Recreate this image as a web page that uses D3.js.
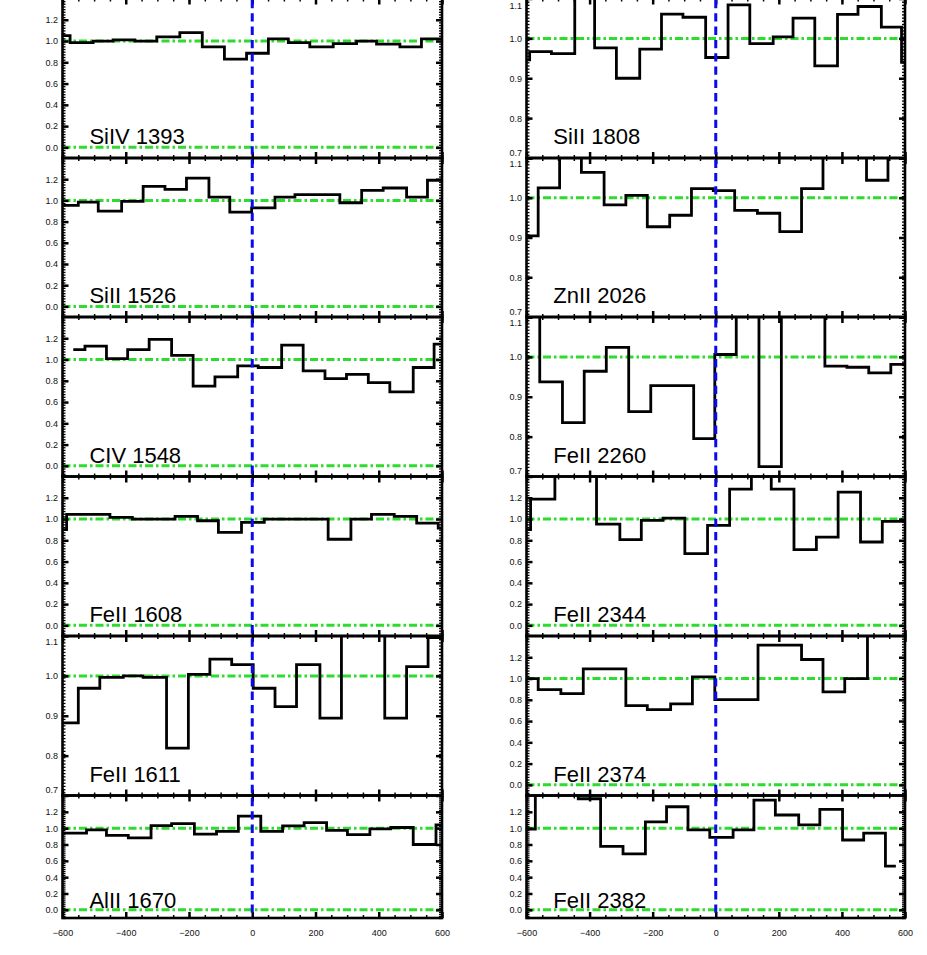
<!DOCTYPE html>
<html><head><meta charset="utf-8">
<script src="https://cdn.jsdelivr.net/npm/d3@7"></script>
<style>body{margin:0;background:#fff} svg{display:block}</style>
</head><body>
<svg id="chart" width="927" height="955"></svg>
<script>
// ---------------- data (velocity bin edges in km/s, normalized flux per bin) ----------------
const siiv1393Edges = [-620,-576,-503,-440,-371,-302,-229,-158,-88,-18,51,114,182,256,330,393,467,535,620];
const siiv1393Flux  = [1.05,0.985,1.0,1.01,1.0,1.04,1.08,0.945,0.83,0.885,1.02,0.985,0.945,0.975,1.0,0.97,0.945,1.02];

const sii1526Edges = [-620,-550,-487,-413,-345,-276,-208,-137,-71,-2,72,135,209,277,346,414,488,554,620];
const sii1526Flux  = [0.953,0.984,0.899,0.99,1.132,1.104,1.211,1.03,0.89,0.93,1.03,1.054,1.054,0.978,1.095,1.117,1.03,1.19];

const civ1548Edges = [-566,-529,-461,-394,-326,-255,-187,-118,-46,19,93,161,230,298,367,435,509,575,620];
const civ1548Flux  = [1.094,1.126,1.009,1.094,1.19,1.04,0.75,0.836,0.94,0.925,1.135,0.893,0.82,0.86,0.783,0.695,0.925,1.145];

const feii1608Edges = [-620,-587,-519,-450,-379,-308,-244,-173,-107,-34,38,103,172,240,312,377,449,520,588,620];
const feii1608Flux  = [0.9,1.044,1.044,1.016,1.0,1.0,1.025,0.984,0.875,0.969,1.0,1.0,1.0,0.81,1.0,1.044,1.025,0.962,0.915];

const feii1611Edges = [-620,-550,-482,-408,-345,-271,-202,-134,-65,3,72,140,214,282,351,419,488,556,620];
const feii1611Flux  = [0.882,0.969,0.996,1.0,0.996,0.819,1.004,1.042,1.028,0.969,0.923,1.028,0.894,1.2,1.15,0.894,1.023,1.096];

const alii1670Edges = [-620,-524,-461,-392,-320,-255,-183,-113,-44,27,96,164,235,301,372,438,509,581,620];
const alii1670Flux  = [0.94,0.98,0.912,0.88,1.032,1.056,0.928,0.96,1.148,0.96,1.028,1.068,0.972,0.92,0.992,1.008,0.8,1.04];

const sii1808Edges = [-620,-590,-521,-447,-384,-315,-241,-172,-104,-32,39,108,182,245,314,386,451,525,589,620];
const sii1808Flux  = [0.946,0.967,0.962,1.15,0.976,0.9,0.973,1.061,1.053,0.952,1.084,0.987,1.004,1.051,0.931,1.06,1.08,1.028,0.94];

const znii2026Edges = [-620,-563,-495,-426,-354,-285,-217,-146,-77,-8,60,132,203,272,340,409,478,546,620];
const znii2026Flux  = [0.904,1.025,1.15,1.064,0.982,1.006,0.927,0.956,1.023,1.018,0.968,0.961,0.915,1.023,1.15,1.15,1.044,1.15];

const feii2260Edges = [-620,-558,-486,-417,-347,-276,-206,-137,-70,-3,65,137,208,277,346,416,485,555,620];
const feii2260Flux  = [1.15,0.9375,0.835,0.964,1.024,0.8625,0.928,0.928,0.795,1.006,1.15,0.725,1.15,1.15,0.977,0.974,0.96,0.981];

const feii2344Edges = [-620,-587,-510,-444,-378,-304,-236,-167,-98,-26,44,113,176,248,319,388,459,528,620];
const feii2344Flux  = [0.9,1.188,1.5,1.5,0.953,0.806,0.987,1.009,0.674,0.94,1.282,1.5,1.282,0.712,0.83,1.254,0.784,0.978];

const feii2374Edges = [-620,-563,-491,-420,-352,-285,-217,-143,-74,-3,65,134,203,272,340,409,481,552,620];
const feii2374Flux  = [1.0,0.896,0.858,1.091,1.091,0.745,0.708,0.761,1.016,0.802,0.802,1.314,1.314,1.179,0.874,1.0,1.5,1.5];

const feii2382Edges = [-620,-572,-504,-436,-365,-294,-223,-156,-88,-19,55,121,189,263,330,402,469,538,571];
const feii2382Flux  = [0.988,1.5,1.5,1.36,0.778,0.685,1.077,1.262,0.98,0.887,0.98,1.343,1.161,1.04,1.23,0.855,0.94,0.536];

const panelLabels = ["SiIV 1393","SiII 1526","CIV 1548","FeII 1608","FeII 1611","AlII 1670",
                     "SiII 1808","ZnII 2026","FeII 2260","FeII 2344","FeII 2374","FeII 2382"];
const panelViews  = ["full","full","full","full","zoom","full",
                     "zoom","zoom","zoom","full","full","full"];

const xTickValues   = [-600,-400,-200,0,200,400,600];
const fullTickValues = [0.0,0.2,0.4,0.6,0.8,1.0,1.2];
const zoomTickValues = [0.7,0.8,0.9,1.0,1.1];
const fullDomain = [-0.1,1.4];
const zoomDomain = [0.7,1.1];
const velocityDomain = [-600,600];

// ---------------- layout ----------------
const colX = [[62.5,442],[526.5,905]];
const rowY = [[-1.5,158],[158,317],[317,476.5],[476.5,636],[636,795.5],[795.5,918]];
const GREEN = "#2ddc2d", BLUE = "#0a0aee";

const seriesEdges = [siiv1393Edges,sii1526Edges,civ1548Edges,feii1608Edges,feii1611Edges,alii1670Edges,
                     sii1808Edges,znii2026Edges,feii2260Edges,feii2344Edges,feii2374Edges,feii2382Edges];
const seriesFlux  = [siiv1393Flux,sii1526Flux,civ1548Flux,feii1608Flux,feii1611Flux,alii1670Flux,
                     sii1808Flux,znii2026Flux,feii2260Flux,feii2344Flux,feii2374Flux,feii2382Flux];

const panels = panelLabels.map((label,i)=>({
  label, view: panelViews[i], edges: seriesEdges[i], flux: seriesFlux[i],
  col: i < 6 ? 0 : 1, row: i % 6
}));

const svg = d3.select("#chart");
svg.append("rect").attr("width",927).attr("height",955).attr("fill","#fff");
const defs = svg.append("defs");

function styleAxis(g, w){
  g.select(".domain").remove();
  g.selectAll(".tick line").attr("stroke","#000").attr("stroke-width",w);
  g.selectAll(".tick text").remove();
}

panels.forEach((p,i)=>{
  const [x0,x1] = colX[p.col];
  const [top,bottom] = rowY[p.row];
  const x = d3.scaleLinear().domain(velocityDomain).range([x0,x1]);
  const full = p.view === "full";
  const dom = full ? fullDomain : zoomDomain;
  const y = d3.scaleLinear().domain(dom).range([bottom, top]);
  const g = svg.append("g");

  const cid = "clip"+i;
  defs.append("clipPath").attr("id",cid).append("rect")
    .attr("x",x0).attr("y",top).attr("width",x1-x0).attr("height",bottom-top);

  // reference lines
  const refs = full ? [1.0, 0.0] : [1.0];
  g.selectAll("line.ref").data(refs).join("line")
    .attr("x1",x0).attr("x2",x1).attr("y1",d=>y(d)).attr("y2",d=>y(d))
    .attr("stroke",GREEN).attr("stroke-width",3).attr("stroke-dasharray","8,3,2.5,3");

  // histogram step line
  const pts = p.edges.map((e,k)=>[e, p.flux[Math.min(k, p.flux.length-1)]]);
  const line = d3.line().x(d=>x(d[0])).y(d=>y(d[1])).curve(d3.curveStepAfter);
  g.append("path").attr("d",line(pts)).attr("fill","none").attr("stroke","#000")
    .attr("stroke-width",2.8).attr("stroke-linejoin","miter").attr("clip-path",`url(#${cid})`);

  // ticks
  const minorX = d3.range(-600,601,50);
  const minorY = full ? d3.range(-0.1,1.4001,0.025) : d3.range(0.7,1.1001,0.008);
  const yt = full ? fullTickValues : zoomTickValues;

  g.append("g").attr("transform",`translate(0,${bottom})`)
    .call(d3.axisBottom(x).tickValues(minorX).tickSize(-3)).call(a=>styleAxis(a,1.5));
  g.append("g").attr("transform",`translate(0,${bottom})`)
    .call(d3.axisBottom(x).tickValues(xTickValues).tickSize(-6)).call(a=>styleAxis(a,2.5));
  g.append("g").attr("transform",`translate(0,${top})`)
    .call(d3.axisTop(x).tickValues(minorX).tickSize(-3)).call(a=>styleAxis(a,1.5));
  g.append("g").attr("transform",`translate(0,${top})`)
    .call(d3.axisTop(x).tickValues(xTickValues).tickSize(-6)).call(a=>styleAxis(a,2.5));

  g.append("g").attr("transform",`translate(${x0},0)`)
    .call(d3.axisLeft(y).tickValues(minorY).tickSize(-3)).call(a=>styleAxis(a,1.3));
  g.append("g").attr("transform",`translate(${x0},0)`)
    .call(d3.axisLeft(y).tickValues(yt).tickSize(-6)).call(a=>styleAxis(a,2.5));
  g.append("g").attr("transform",`translate(${x1},0)`)
    .call(d3.axisRight(y).tickValues(minorY).tickSize(-3)).call(a=>styleAxis(a,1.3));
  g.append("g").attr("transform",`translate(${x1},0)`)
    .call(d3.axisRight(y).tickValues(yt).tickSize(-6)).call(a=>styleAxis(a,2.5));

  // y tick labels (labels sitting on a panel edge are nudged inside, as in the original)
  const yl = g.append("g").attr("transform",`translate(${x0},0)`)
    .call(d3.axisLeft(y).tickValues(yt).tickSize(0).tickPadding(4.5).tickFormat(d3.format(".1f")));
  yl.select(".domain").remove();
  yl.selectAll(".tick text").attr("font-family","'Liberation Sans',Arial,sans-serif")
    .attr("font-size",9).attr("fill","#111")
    .attr("transform", d=>{
      let dy = 0;
      if (Math.abs(d-dom[1])<1e-9) dy = Math.max(5.5, 5.5 - y(d));
      else if (Math.abs(d-dom[0])<1e-9) dy = -5.5;
      return `translate(0,${dy})`;
    });

  // frame
  g.append("rect").attr("x",x0).attr("y",top).attr("width",x1-x0).attr("height",bottom-top)
    .attr("fill","none").attr("stroke","#000").attr("stroke-width",2.6);

  // panel label
  g.append("text").attr("x",x(-515)).attr("y",bottom - 0.085*(bottom-top))
    .attr("font-family","'Liberation Sans',Arial,sans-serif").attr("font-size",22)
    .attr("fill","#000").text(p.label);

  // x tick labels on bottom row
  if(p.row === 5){
    const xl = g.append("g").attr("transform",`translate(0,${bottom})`)
      .call(d3.axisBottom(x).tickValues(xTickValues).tickSize(0).tickPadding(12).tickFormat(d3.format("d")));
    xl.select(".domain").remove();
    xl.selectAll(".tick text").attr("font-family","'Liberation Sans',Arial,sans-serif")
      .attr("font-size",9).attr("fill","#111");
  }
});

// blue dashed zero-velocity line in each column
colX.forEach(([x0,x1])=>{
  const x = d3.scaleLinear().domain(velocityDomain).range([x0,x1]);
  svg.append("line").attr("x1",x(0)).attr("x2",x(0)).attr("y1",0).attr("y2",rowY[5][1])
    .attr("stroke",BLUE).attr("stroke-width",3).attr("stroke-dasharray","8.3,5");
});
</script>
</body></html>
